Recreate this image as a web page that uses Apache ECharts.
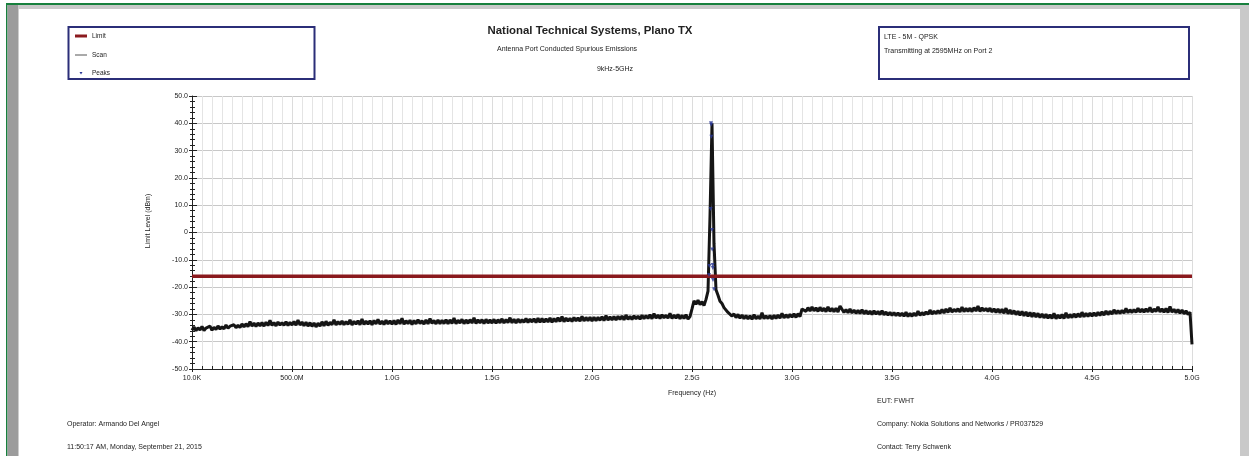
<!DOCTYPE html>
<html><head><meta charset="utf-8">
<script src="https://cdn.jsdelivr.net/npm/echarts@6/dist/echarts.min.js"></script>
<style>html,body{margin:0;padding:0;background:#fff}#c{width:1249px;height:456px}</style>
</head><body><div id="c"></div>
<script>
// ---- data ----
const xTickLabels = ['10.0K','500.0M','1.0G','1.5G','2.0G','2.5G','3.0G','3.5G','4.0G','4.5G','5.0G'];
const yTickLabels = ['-50.0','-40.0','-30.0','-20.0','-10.0','0','10.0','20.0','30.0','40.0','50.0'];
const scanStartGHz = 0;
const scanStepGHz = 0.01;
const scanDb = [
-35.8,-34.6,-36.0,-34.9,-35.7,-34.4,-35.9,-35.0,-35.6,-34.3,-35.8,-34.7,-35.5,-34.2,-35.4,-34.5,-35.3,-33.9,-35.1,-34.3,-35.0,-33.8,-34.9,-34.0,-34.8,
-33.5,-34.6,-33.4,-34.5,-32.6,-34.3,-33.2,-34.4,-33.1,-34.2,-33.0,-34.3,-32.9,-34.1,-32.2,-34.0,-33.0,-34.2,-32.8,-33.9,-33.0,-34.0,-32.7,-34.1,-32.9,
-33.9,-32.6,-34.0,-32.1,-33.9,-32.8,-34.2,-32.9,-34.3,-33.0,-34.4,-33.1,-34.6,-33.2,-34.3,-32.7,-34.2,-32.5,-34.0,-32.9,-33.8,-32.0,-33.9,-32.6,-33.7,
-32.4,-33.8,-32.6,-33.7,-32.0,-33.9,-32.5,-33.6,-32.3,-33.8,-31.7,-33.7,-32.4,-33.6,-32.3,-33.8,-32.2,-33.5,-31.8,-33.6,-32.4,-33.7,-32.1,-33.5,-32.3,
-33.6,-32.2,-33.7,-32.0,-33.5,-31.4,-33.6,-32.3,-33.4,-32.1,-33.7,-32.2,-33.5,-31.9,-33.4,-32.3,-33.6,-32.0,-33.5,-31.5,-33.3,-32.2,-33.5,-32.0,-33.4,
-32.1,-33.4,-31.9,-33.5,-32.0,-33.3,-31.3,-33.4,-32.1,-33.2,-31.8,-33.4,-32.0,-33.3,-31.9,-33.2,-31.2,-33.3,-32.0,-33.1,-31.9,-33.4,-31.8,-33.2,-32.0,
-33.2,-31.8,-33.3,-31.9,-33.1,-31.6,-33.2,-31.9,-33.0,-31.2,-33.1,-31.8,-33.2,-31.7,-33.0,-31.9,-32.9,-31.5,-33.0,-31.7,-32.8,-31.6,-33.0,-31.4,-32.9,
-31.5,-32.9,-31.6,-32.8,-31.3,-32.9,-31.5,-32.7,-31.2,-32.6,-30.8,-32.7,-31.3,-32.5,-31.4,-32.6,-31.1,-32.4,-31.2,-32.5,-30.7,-32.4,-31.1,-32.3,-31.0,
-32.4,-31.0,-32.3,-31.1,-32.2,-30.8,-32.3,-30.4,-32.1,-30.9,-32.0,-30.8,-32.1,-30.7,-31.9,-30.6,-32.0,-30.2,-31.8,-30.7,-31.9,-30.5,-31.7,-30.6,-31.8,
-30.3,-31.6,-30.4,-31.5,-30.1,-31.6,-29.7,-31.4,-30.2,-31.5,-30.1,-31.3,-30.3,-31.4,-29.6,-31.5,-30.2,-31.4,-30.0,-31.6,-30.3,-31.5,-30.1,-31.7,-30.8,
-28.0,-25.0,-26.3,-24.8,-26.4,-25.3,-26.8,-24.5,-21.5,6.0,40.0,-4.0,-21.0,-23.0,-25.2,-26.0,-27.5,-27.9,-29.3,-29.0,-30.6,-29.8,-31.2,-30.0,-31.4,
-30.2,-31.6,-30.4,-31.7,-30.5,-31.8,-30.1,-31.6,-30.6,-31.7,-29.4,-31.6,-30.5,-31.5,-30.4,-31.7,-30.3,-31.5,-30.2,-31.4,-29.6,-31.3,-30.1,-31.2,-30.0,
-31.0,-29.8,-31.1,-29.7,-30.8,-28.0,-27.6,-28.9,-27.5,-28.8,-27.3,-28.7,-27.6,-28.9,-27.4,-28.8,-27.7,-29.0,-27.2,-28.9,-27.8,-29.0,-27.7,-29.1,-26.9,
-28.1,-29.3,-28.2,-29.4,-28.0,-29.5,-28.4,-29.6,-28.5,-29.7,-28.3,-29.8,-28.6,-29.9,-28.8,-30.0,-28.7,-29.9,-28.9,-30.1,-28.6,-30.2,-29.1,-30.3,-29.2,
-30.4,-29.3,-30.5,-29.4,-30.6,-29.5,-30.7,-29.2,-30.8,-29.6,-30.7,-29.5,-30.6,-28.8,-30.4,-29.3,-30.2,-29.1,-30.0,-28.4,-29.9,-28.8,-29.7,-28.6,-29.6,
-28.2,-29.5,-28.0,-29.3,-27.6,-29.2,-28.1,-29.0,-27.9,-29.1,-27.3,-29.0,-27.8,-28.9,-27.7,-29.0,-27.5,-28.8,-26.9,-28.9,-27.6,-28.7,-27.8,-28.9,-27.7,
-29.1,-27.9,-29.3,-28.0,-29.4,-28.1,-29.6,-27.7,-29.8,-28.4,-29.9,-28.6,-30.1,-28.8,-30.3,-28.9,-30.5,-29.1,-30.7,-29.3,-30.9,-29.4,-31.0,-29.6,-31.2,
-29.8,-31.3,-29.9,-31.4,-30.1,-31.5,-29.6,-31.6,-30.2,-31.4,-30.0,-31.5,-29.4,-31.3,-30.0,-31.2,-29.8,-31.1,-29.7,-31.0,-29.2,-30.9,-29.6,-30.8,-29.5,
-30.7,-29.4,-30.6,-29.2,-30.4,-29.0,-30.3,-28.7,-30.1,-28.8,-29.9,-28.3,-29.7,-28.6,-29.6,-28.5,-29.5,-27.8,-29.4,-28.3,-29.3,-28.2,-29.3,-27.7,-29.2,
-28.0,-29.2,-27.9,-29.1,-27.4,-29.2,-28.0,-29.0,-27.2,-29.1,-27.9,-29.2,-27.8,-29.3,-27.1,-29.2,-28.1,-29.4,-28.2,-29.6,-28.4,-29.8,-28.7,-30.0,-29.2,
-41.0
];
const limitFreqGHz = [0, 5];
const limitDb = [-16, -16];
const peaksFreqGHz = [2.595, 2.596, 2.597, 2.593, 2.600, 2.601, 2.587, 2.603, 2.604, 2.585, 2.605, 2.610];
const peaksDb      = [40.0, 39.5, 35.1, 8.6, 0.9, -6.2, -12.3, -11.9, -13.0, -15.6, -17.4, -20.8];

// ---- build ----
const FONT = "'Liberation Sans', Arial, sans-serif";
const scanData = scanDb.map((v, i) => [scanStartGHz + i * scanStepGHz, v]);
const limitData = limitFreqGHz.map((f, i) => [f, limitDb[i]]);
const peaksData = peaksFreqGHz.map((f, i) => [f, peaksDb[i]]);

const xLab = v => xTickLabels[Math.round(v / 0.5)] || '';
const yLab = v => yTickLabels[Math.round((v + 50) / 10)] || '';

const gridPos = { left: 192, right: 57, top: 96, bottom: 87 };
const axisCol = '#222';

function txt(x, y, text, size, opts) {
  return Object.assign({
    type: 'text', x: x, y: y, silent: true,
    style: Object.assign({ text: text, fontFamily: FONT, fontSize: size, fill: '#222',
      textAlign: 'left', textVerticalAlign: 'middle' }, (opts && opts.style) || {})
  }, (opts && opts.el) || {});
}

const chart = echarts.init(document.getElementById('c'), null, { renderer: 'canvas' });
chart.setOption({
  animation: false,
  backgroundColor: '#ffffff',
  grid: gridPos,
  xAxis: [{
    type: 'value', min: 0, max: 5, interval: 0.5,
    name: 'Frequency (Hz)', nameLocation: 'middle', nameGap: 21,
    nameTextStyle: { fontFamily: FONT, fontSize: 7, color: '#222' },
    axisLine: { show: true, onZero: false, lineStyle: { color: axisCol, width: 1 } },
    axisTick: { show: true, inside: true, length: 3, lineStyle: { color: axisCol } },
    minorTick: { show: true, splitNumber: 10, length: 3, lineStyle: { color: axisCol } },
    axisLabel: { formatter: xLab, fontFamily: FONT, fontSize: 7, color: '#222', margin: 6 },
    splitLine: { show: true, lineStyle: { color: '#dcdcdc', width: 1 } },
    minorSplitLine: { show: true, lineStyle: { color: '#e4e4e4', width: 1 } }
  }, {
    type: 'value', min: 0, max: 5, interval: 0.5, position: 'bottom', offset: 0,
    axisLine: { show: false, onZero: false }, axisLabel: { show: false }, splitLine: { show: false },
    axisTick: { show: true, inside: false, length: 3, lineStyle: { color: axisCol } },
    minorTick: { show: false }
  }],
  yAxis: [{
    type: 'value', min: -50, max: 50, interval: 10,
    axisLine: { show: true, onZero: false, lineStyle: { color: axisCol, width: 1 } },
    axisTick: { show: true, inside: true, length: 5, lineStyle: { color: axisCol } },
    minorTick: { show: true, splitNumber: 5, length: 3, lineStyle: { color: axisCol } },
    axisLabel: { formatter: yLab, fontFamily: FONT, fontSize: 7, color: '#222', margin: 4 },
    splitLine: { show: true, lineStyle: { color: '#c8c8c8', width: 1 } }
  }, {
    type: 'value', min: -50, max: 50, interval: 10, position: 'left', offset: 0,
    axisLine: { show: false, onZero: false }, axisLabel: { show: false }, splitLine: { show: false },
    axisTick: { show: true, inside: false, length: 3, lineStyle: { color: axisCol } },
    minorTick: { show: true, splitNumber: 5, length: 2, lineStyle: { color: axisCol } }
  }],
  series: [{
    name: 'Scan', type: 'line', data: scanData, showSymbol: false, sampling: null,
    lineStyle: { color: '#151515', width: 3 }, z: 3
  }, {
    name: 'Limit', type: 'line', data: limitData, showSymbol: false,
    lineStyle: { color: '#8b1a1e', width: 3.4 }, z: 4
  }, {
    name: 'Peaks', type: 'scatter', data: peaksData, symbol: 'triangle', symbolRotate: 180,
    symbolSize: 4, itemStyle: { color: '#2b3896' }, z: 5
  }],
  graphic: [
    // page frame
    { type: 'rect', shape: { x: 6, y: 3, width: 1243, height: 2 }, style: { fill: '#17803d' }, silent: true },
    { type: 'rect', shape: { x: 6, y: 3, width: 1.5, height: 453 }, style: { fill: '#17803d' }, silent: true },
    { type: 'rect', shape: { x: 7.5, y: 5, width: 11, height: 451 }, style: { fill: '#9c9c9c' }, silent: true },
    { type: 'rect', shape: { x: 18.5, y: 5, width: 1231, height: 4 }, style: { fill: '#c9c9c9' }, silent: true },
    { type: 'rect', shape: { x: 1240, y: 9, width: 9, height: 447 }, style: { fill: '#c9c9c9' }, silent: true },
    // legend box
    { type: 'rect', shape: { x: 68.5, y: 27, width: 246, height: 52 }, style: { fill: 'none', stroke: '#2b2e78', lineWidth: 2 }, silent: true },
    { type: 'rect', shape: { x: 75, y: 34.5, width: 12, height: 3 }, style: { fill: '#8b1a1e' }, silent: true },
    { type: 'line', shape: { x1: 75, y1: 55, x2: 87, y2: 55 }, style: { stroke: '#555', lineWidth: 1 }, silent: true },
    { type: 'polygon', shape: { points: [[79.5, 72], [82.5, 72], [81, 74.6]] }, style: { fill: '#2b3896' }, silent: true },
    txt(92, 36, 'Limit', 6.5),
    txt(92, 55, 'Scan', 6.5),
    txt(92, 73, 'Peaks', 6.5),
    // right info box
    { type: 'rect', shape: { x: 879, y: 27, width: 310, height: 52 }, style: { fill: 'none', stroke: '#2b2e78', lineWidth: 2 }, silent: true },
    txt(884, 37, 'LTE - 5M - QPSK', 7),
    txt(884, 51, 'Transmitting at 2595MHz on Port 2', 7),
    // titles
    txt(590, 31, 'National Technical Systems, Plano TX', 11.4, { style: { textAlign: 'center', fontWeight: 'bold' } }),
    txt(497, 49, 'Antenna Port Conducted Spurious Emissions', 7),
    txt(615, 69, '9kHz-5GHz', 7, { style: { textAlign: 'center' } }),
    // y-axis name
    txt(148, 221, 'Limit Level (dBm)', 7, { style: { textAlign: 'center' }, el: { rotation: Math.PI / 2 } }),
    // footer
    txt(877, 401, 'EUT: FWHT', 7),
    txt(67, 424, 'Operator: Armando Del Angel', 7),
    txt(877, 424, 'Company: Nokia Solutions and Networks / PR037529', 7),
    txt(67, 447, '11:50:17 AM, Monday, September 21, 2015', 7),
    txt(877, 447, 'Contact: Terry Schwenk', 7)
  ]
});
</script>
</body></html>
